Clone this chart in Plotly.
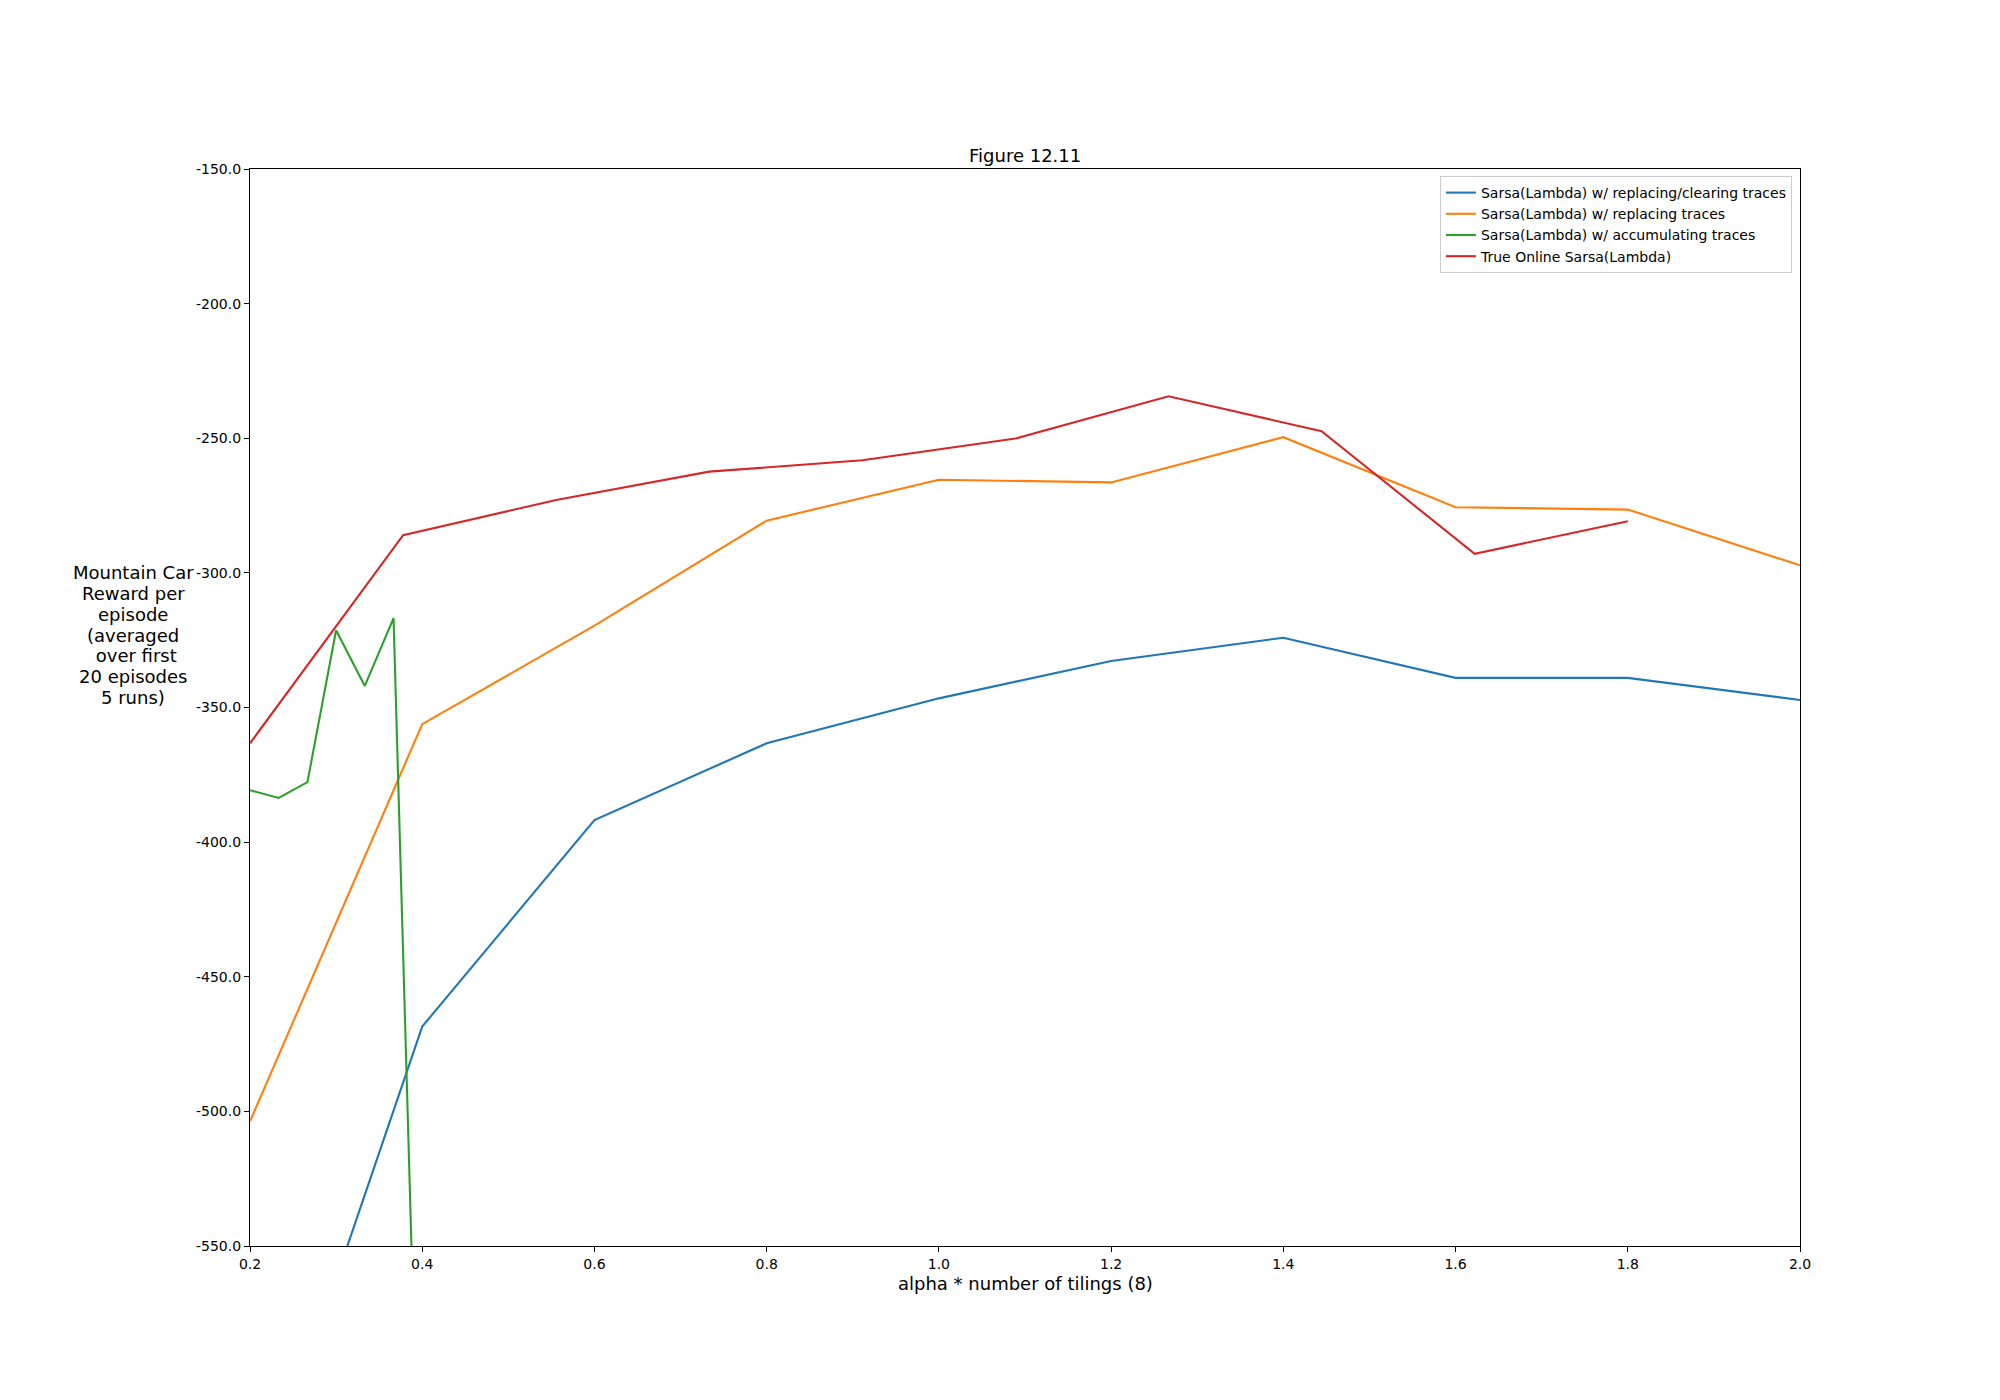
import plotly.graph_objects as go

# Data
x_clear = [0.2, 0.4, 0.6, 0.8, 1.0, 1.2, 1.4, 1.6, 1.8, 2.0]
y_clear = [-656.0, -468.5, -391.8, -363.3, -346.6, -332.7, -324.1, -339.0, -339.0, -347.2]

x_replace = [0.2, 0.4, 0.6, 0.8, 1.0, 1.2, 1.4, 1.6, 1.8, 2.0]
y_replace = [-503.7, -356.2, -319.6, -280.6, -265.4, -266.4, -249.6, -275.6, -276.5, -297.2]

x_accum = [0.2, 0.2333, 0.2667, 0.3, 0.3333, 0.3667, 0.4]
y_accum = [-380.7, -383.6, -377.7, -321.3, -342.0, -316.8, -690.0]

x_true = [0.2, 0.3778, 0.5556, 0.7333, 0.9111, 1.0889, 1.2667, 1.4444, 1.6222, 1.8]
y_true = [-363.3, -286.0, -272.9, -262.4, -258.2, -250.1, -234.4, -247.4, -292.9, -280.8]

names = [
    "Sarsa(Lambda) w/ replacing/clearing traces",
    "Sarsa(Lambda) w/ replacing traces",
    "Sarsa(Lambda) w/ accumulating traces",
    "True Online Sarsa(Lambda)",
]
colors = ["#1f77b4", "#ff7f0e", "#2ca02c", "#d62728"]

x_ticks = [0.2, 0.4, 0.6, 0.8, 1.0, 1.2, 1.4, 1.6, 1.8, 2.0]
y_ticks = [-550, -500, -450, -400, -350, -300, -250, -200, -150]

ylabel_lines = ["Mountain Car", "Reward per", "episode", "(averaged",
                " over first", "20 episodes", "5 runs)"]

FONT = "DejaVu Sans"

fig = go.Figure()
for xs, ys, nm, c in zip([x_clear, x_replace, x_accum, x_true],
                         [y_clear, y_replace, y_accum, y_true], names, colors):
    fig.add_trace(go.Scatter(x=xs, y=ys, mode="lines", name=nm,
                             line=dict(color=c, width=2.1)))

axis_common = dict(
    showgrid=False, zeroline=False, showline=True, linecolor="black",
    linewidth=1.1, mirror=True, ticks="outside", ticklen=5, tickwidth=1.1,
    tickcolor="black", tickfont=dict(family=FONT, size=14, color="black"),
)

# page body has an 8px margin: shrink the figure so the plot lands where the reference has it
W, H = 1992, 1392
ML, MR, MT, MB = 242, 200, 161, 154
PH = H - MT - MB

fig.update_layout(
    width=W, height=H,
    margin=dict(l=ML, r=MR, t=MT, b=MB, pad=0),
    paper_bgcolor="white", plot_bgcolor="white",
    font=dict(family=FONT, color="black"),
    xaxis=dict(range=[0.2, 2.0], tickvals=x_ticks,
               ticktext=[f"{v:.1f}" for v in x_ticks], **axis_common),
    yaxis=dict(range=[-550, -150], tickvals=y_ticks,
               ticktext=[f"{v:.1f}" for v in y_ticks], **axis_common),
    legend=dict(x=0.9948, y=0.9935, xanchor="right", yanchor="top",
                bgcolor="rgba(255,255,255,0.8)", bordercolor="#cccccc",
                borderwidth=1, font=dict(family=FONT, size=14, color="black"),
                itemwidth=30, tracegroupgap=0),
    showlegend=True,
)

fig.add_annotation(text="Figure 12.11", xref="paper", yref="paper",
                   x=0.5, y=1.0, xanchor="center", yanchor="bottom", yshift=1,
                   showarrow=False, font=dict(family=FONT, size=18, color="black"))
fig.add_annotation(text="alpha * number of tilings (8)", xref="paper", yref="paper",
                   x=0.5, y=0.0, xanchor="center", yanchor="top", yshift=-25,
                   showarrow=False, font=dict(family=FONT, size=18, color="black"))

# y-axis label, one line per annotation for matplotlib-like line spacing
center_px = 635 - 8 - MT   # from top of plot area
for i, line in enumerate(ylabel_lines):
    ypx = center_px + (i - 3) * 20.7
    fig.add_annotation(text=line, xref="paper", yref="paper",
                       x=(133 - 8 - ML) / (W - ML - MR), y=1 - ypx / PH,
                       xanchor="center", yanchor="middle", align="center",
                       showarrow=False, font=dict(family=FONT, size=18, color="black"))

fig.write_html("out.html")
